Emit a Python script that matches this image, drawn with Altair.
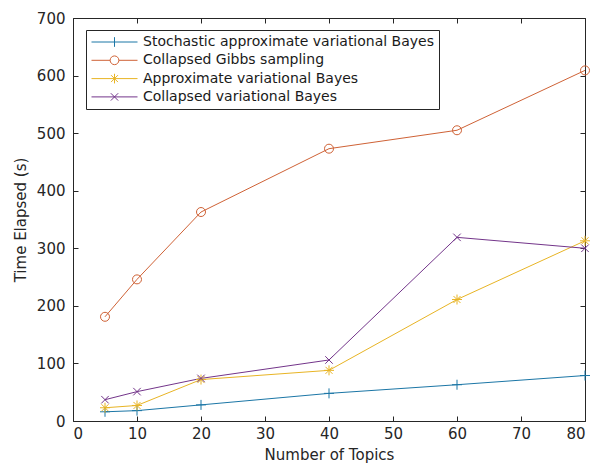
import altair as alt
import pandas as pd

topics = [5, 10, 20, 40, 60, 80]
series_names = [
    "Stochastic approximate variational Bayes",
    "Collapsed Gibbs sampling",
    "Approximate variational Bayes",
    "Collapsed variational Bayes",
]
savb = [16, 18, 28, 48, 63, 79]
gibbs = [181, 246, 363, 473, 505, 609]
avb = [23, 27, 72, 88, 211, 313]
cvb = [37, 51, 74, 106, 319, 300]
colors = ["#1b76a6", "#cf6236", "#e8b424", "#73358a"]

x_ticks = [0, 10, 20, 30, 40, 50, 60, 70, 80]
y_ticks = [0, 100, 200, 300, 400, 500, 600, 700]

rows = []
for name, vals in zip(series_names, [savb, gibbs, avb, cvb]):
    for t, v in zip(topics, vals):
        rows.append({"topics": t, "time": v, "series": name})
df = pd.DataFrame(rows)

# marker shapes (unit square) for the data points
marker_paths = [
    "M-1,0H1M0,-1V1",
    "M0.9,0A0.9,0.9 0 1,1 -0.9,0A0.9,0.9 0 1,1 0.9,0",
    "M-1,0H1M0,-1V1M-0.7,-0.7L0.7,0.7M-0.7,0.7L0.7,-0.7",
    "M-0.75,-0.75L0.75,0.75M-0.75,0.75L0.75,-0.75",
]
# legend symbols: a line with the marker in the middle (scale 23 px per unit)
legend_paths = [
    "M-1,0H1M0,-0.21V0.21",
    "M-1,0H-0.19M0.19,0H1M0.19,0A0.19,0.19 0 1,1 -0.19,0A0.19,0.19 0 1,1 0.19,0",
    "M-1,0H1M0,-0.21V0.21M-0.15,-0.15L0.15,0.15M-0.15,0.15L0.15,-0.15",
    "M-1,0H1M-0.16,-0.16L0.16,0.16M-0.16,0.16L0.16,-0.16",
]
expr = "'" + legend_paths[-1] + "'"
for name, p in reversed(list(zip(series_names[:-1], legend_paths[:-1]))):
    expr = f"datum.value === '{name}' ? '{p}' : " + expr

FONT = "DejaVu Sans"
TXT = "#262626"

xscale = alt.Scale(domain=[0, 80], nice=False, zero=False)
yscale = alt.Scale(domain=[0, 700], nice=False)
cscale = alt.Scale(domain=series_names, range=colors)

base = alt.Chart(df)

lines = base.mark_line(strokeWidth=1).encode(
    x=alt.X("topics:Q", scale=xscale,
            axis=alt.Axis(orient="bottom", values=x_ticks, title="Number of Topics",
                          offset=-5, tickSize=5, labelPadding=5, titlePadding=6,
                          domain=False, grid=False)),
    y=alt.Y("time:Q", scale=yscale,
            axis=alt.Axis(orient="left", values=y_ticks, title="Time Elapsed (s)",
                          offset=-5, tickSize=5, labelPadding=8, titlePadding=8,
                          domain=False, grid=False)),
    color=alt.Color("series:N", scale=cscale, sort=series_names,
                    legend=alt.Legend(
                        title=None, orient="none", legendX=13, legendY=12,
                        symbolSize=2116, clipHeight=14, rowPadding=4.3,
                        labelOffset=5, labelFontSize=14, labelFont=FONT,
                        labelColor="#1a1a1a", labelLimit=0, padding=5,
                        strokeColor=TXT, fillColor="white",
                        symbolStrokeWidth=1, symbolFillColor="transparent",
                        symbolType=alt.ExprRef(expr),
                    )),
    order="topics:Q",
)

layers = [lines]
for i, (name, path, col) in enumerate(zip(series_names, marker_paths, colors)):
    if i == 0:
        xax = alt.Axis(orient="top", values=x_ticks, title=None, labels=False,
                       offset=-5, tickSize=5, domain=False, grid=False)
        yax = alt.Axis(orient="right", values=y_ticks, title=None, labels=False,
                       offset=-5, tickSize=5, domain=False, grid=False)
    else:
        xax = None
        yax = None
    pts = base.transform_filter(alt.datum.series == name).mark_point(
        shape=path, filled=False, strokeWidth=1, size=100, opacity=1, color=col
    ).encode(
        x=alt.X("topics:Q", scale=xscale, axis=xax),
        y=alt.Y("time:Q", scale=yscale, axis=yax),
    )
    layers.append(pts)

chart = (
    alt.layer(*layers)
    .resolve_axis(x="independent", y="independent")
    .properties(width=512, height=403,
                autosize=alt.AutoSizeParams(type="none"),
                padding={"left": 73, "top": 18, "right": 8, "bottom": 49},
                background="white")
    .configure_view(stroke=TXT, strokeWidth=1)
    .configure_axis(labelFont=FONT, labelFontSize=15, labelColor=TXT,
                    titleFont=FONT, titleFontSize=15, titleColor=TXT,
                    titleFontWeight="normal", tickColor=TXT, tickWidth=1)
)

chart.save("out.html", embed_options={"renderer": "svg", "actions": False})
